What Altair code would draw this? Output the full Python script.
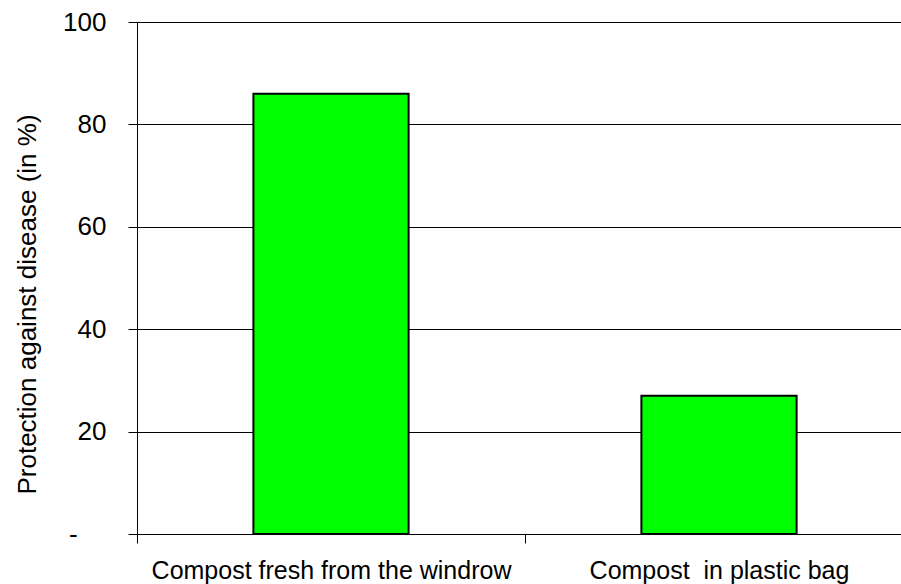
import altair as alt
import pandas as pd

# Disease protection by compost handling
treatments = ["Compost fresh from the windrow", "Compost\u00a0\u00a0in plastic bag"]
protection = [86, 27]
y_ticks = [0, 20, 40, 60, 80, 100]

df = pd.DataFrame({"treatment": treatments, "protection": protection})

FONT = "Liberation Sans"
band_range = 776  # full category range; the last half-band runs past the right edge
half_step = band_range / len(treatments) / 2

bars = alt.Chart(df).mark_bar(
    color="#00FF00", stroke="#000000", strokeWidth=2
).encode(
    x=alt.X(
        "treatment:N",
        sort=treatments,
        scale=alt.Scale(range=[0, band_range], paddingInner=0.6, paddingOuter=0.3),
        axis=alt.Axis(
            title=None,
            # ticks sit between categories, labels stay centred under the bars
            tickOffset=-half_step,
            labelOffset=half_step,
            labelAngle=0,
            labelFont=FONT,
            labelFontSize=25,
            labelColor="#000000",
            labelLimit=600,
            labelBaseline="alphabetic",
            labelPadding=35,
            tickSize=9,
            tickColor="#000000",
            domainColor="#000000",
            labelOverlap=False,
            grid=False,
        ),
    ),
    y=alt.Y(
        "protection:Q",
        scale=alt.Scale(domain=[0, 100], nice=False),
        axis=alt.Axis(
            title="Protection against disease (in %)",
            values=y_ticks,
            # zero shown as an accounting-style dash, padded like the digits
            labelExpr="datum.value == 0 ? '-\u2007\u2007\u200b' : datum.label",
            labelFont=FONT,
            labelFontSize=26,
            labelColor="#000000",
            labelPadding=22,
            tickSize=9,
            tickColor="#000000",
            domainColor="#000000",
            grid=True,
            gridColor="#000000",
            gridWidth=1,
            titleFont=FONT,
            titleFontSize=26,
            titleFontWeight="normal",
            titleColor="#000000",
            titleX=-102,
            titleY=282,
            titleBaseline="alphabetic",
            titleAlign="center",
        ),
    ),
)

chart = bars.properties(
    width=764,
    height=512,
    autosize=alt.AutoSizeParams(type="none"),
    padding={"left": 137, "top": 22, "right": 0, "bottom": 50},
    background="#FFFFFF",
).configure_view(stroke=None)

chart.save("out.html", embed_options={"renderer": "svg", "actions": False})
